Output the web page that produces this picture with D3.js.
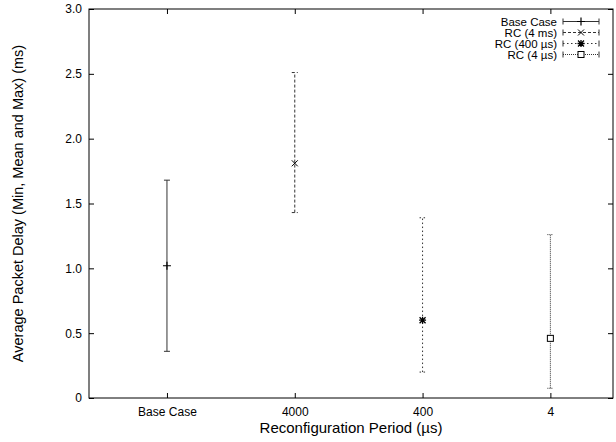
<!DOCTYPE html>
<html>
<head>
<meta charset="utf-8">
<script src="https://cdn.jsdelivr.net/npm/d3@7"></script>
<style>
	body { margin: 0; background: #fff; }
	text { font-family: "Liberation Sans", Arial, sans-serif; fill: #000; }
</style>
</head>
<body>
<div id="chart"></div>
<script>
//	数据
const categories = ['Base Case', '4000', '400', '4'];
const seriesNames = ['Base Case', 'RC (4 ms)', 'RC (400 µs)', 'RC (4 µs)'];
const meanValues = [1.02, 1.81, 0.60, 0.46];
const minValues = [0.36, 1.43, 0.20, 0.075];
const maxValues = [1.68, 2.51, 1.39, 1.26];
const yTicks = [0, 0.5, 1.0, 1.5, 2.0, 2.5, 3.0];

const width = 616, height = 442;
const margin = { left: 89, right: 3, top: 9, bottom: 44 };

const svg = d3.select('#chart')
	.append('svg')
	.attr('width', width)
	.attr('height', height);

const x = d3.scaleLinear().domain([0.39, 4.49]).range([margin.left, width - margin.right]);
const y = d3.scaleLinear().domain([0, 3]).range([height - margin.bottom, margin.top]);

const dashes = [null, '3,2', '1.5,2.5', '1,1'];

//	边框
svg.append('rect')
	.attr('x', x.range()[0])
	.attr('y', y.range()[1])
	.attr('width', x.range()[1] - x.range()[0])
	.attr('height', y.range()[0] - y.range()[1])
	.style('fill', 'none')
	.attr('stroke', '#000')
	.style('stroke-width', 1);

//	坐标轴
const xPos = categories.map((d, i) => i + 1);
const fmt = d => d === 0 ? '0' : d3.format('.1f')(d);

const gx = svg.append('g')
	.attr('transform', 'translate(0,' + y(0) + ')')
	.call(d3.axisBottom(x).tickValues(xPos).tickSize(-5).tickPadding(9)
		.tickFormat((d, i) => categories[i]));
const gxTop = svg.append('g')
	.attr('transform', 'translate(0,' + y(3) + ')')
	.call(d3.axisTop(x).tickValues(xPos).tickSize(-5).tickFormat(''));
const gy = svg.append('g')
	.attr('transform', 'translate(' + x.range()[0] + ',0)')
	.call(d3.axisLeft(y).tickValues(yTicks).tickSize(-5).tickPadding(7).tickFormat(fmt));
const gyRight = svg.append('g')
	.attr('transform', 'translate(' + x.range()[1] + ',0)')
	.call(d3.axisRight(y).tickValues(yTicks).tickSize(-5).tickFormat(''));

[gx, gxTop, gy, gyRight].forEach(g => {
	g.select('.domain').remove();
	g.selectAll('line').attr('stroke', '#000');
	g.selectAll('text').style('font-size', '12px');
});

//	轴标题
svg.append('text')
	.attr('x', (x.range()[0] + x.range()[1]) / 2)
	.attr('y', 433)
	.attr('text-anchor', 'middle')
	.style('font-size', '15px')
	.text('Reconfiguration Period (µs)');

svg.append('text')
	.attr('transform', 'translate(23,' + ((y.range()[0] + y.range()[1]) / 2) + ') rotate(-90)')
	.attr('text-anchor', 'middle')
	.style('font-size', '14.5px')
	.text('Average Packet Delay (Min, Mean and Max) (ms)');

//	点标记
const drawMarker = (g, i, cx, cy) => {
	if (i === 0) {
		g.append('path').attr('d', `M${cx - 4},${cy}H${cx + 4}M${cx},${cy - 4}V${cy + 4}`)
			.attr('stroke', '#000').style('stroke-width', 1.2);
	} else if (i === 1) {
		g.append('path').attr('d', `M${cx - 3},${cy - 3}L${cx + 3},${cy + 3}M${cx - 3},${cy + 3}L${cx + 3},${cy - 3}`)
			.attr('stroke', '#000').style('stroke-width', 1);
	} else if (i === 2) {
		g.append('path').attr('d', `M${cx - 3.5},${cy}H${cx + 3.5}M${cx},${cy - 3.5}V${cy + 3.5}M${cx - 3},${cy - 3}L${cx + 3},${cy + 3}M${cx - 3},${cy + 3}L${cx + 3},${cy - 3}`)
			.attr('stroke', '#000').style('stroke-width', 1.3);
	} else {
		g.append('rect').attr('x', cx - 3).attr('y', cy - 3).attr('width', 6).attr('height', 6)
			.style('fill', '#fff').attr('stroke', '#000').style('stroke-width', 1);
	}
};

//	误差线
const bars = svg.selectAll('g.bar')
	.data(categories)
	.enter()
	.append('g')
	.attr('class', 'bar');

bars.each(function (d, i){
	const g = d3.select(this);
	const cx = x(i + 1);
	g.append('line')
		.attr('x1', cx).attr('x2', cx)
		.attr('y1', y(minValues[i])).attr('y2', y(maxValues[i]))
		.attr('stroke', '#333')
		.style('stroke-width', 1)
		.attr('stroke-dasharray', dashes[i]);
	[minValues[i], maxValues[i]].forEach(v => {
		g.append('line')
			.attr('x1', cx - 3).attr('x2', cx + 3)
			.attr('y1', y(v)).attr('y2', y(v))
			.attr('stroke', '#333')
			.style('stroke-width', 1)
			.attr('stroke-dasharray', dashes[i]);
	});
	drawMarker(g, i, cx, y(meanValues[i]));
});

//	图例
const legend = svg.append('g');
seriesNames.forEach((name, i) => {
	const ly = 21.5 + i * 11;
	legend.append('text')
		.attr('x', 557)
		.attr('y', ly + 4)
		.attr('text-anchor', 'end')
		.style('font-size', '11.5px')
		.text(name);
	legend.append('line')
		.attr('x1', 563).attr('x2', 599)
		.attr('y1', ly).attr('y2', ly)
		.attr('stroke', '#333')
		.attr('stroke-dasharray', dashes[i]);
	[563, 599].forEach(ex => {
		legend.append('line')
			.attr('x1', ex).attr('x2', ex)
			.attr('y1', ly - 3).attr('y2', ly + 3)
			.attr('stroke', '#333');
	});
	drawMarker(legend, i, 581, ly);
});
</script>
</body>
</html>
